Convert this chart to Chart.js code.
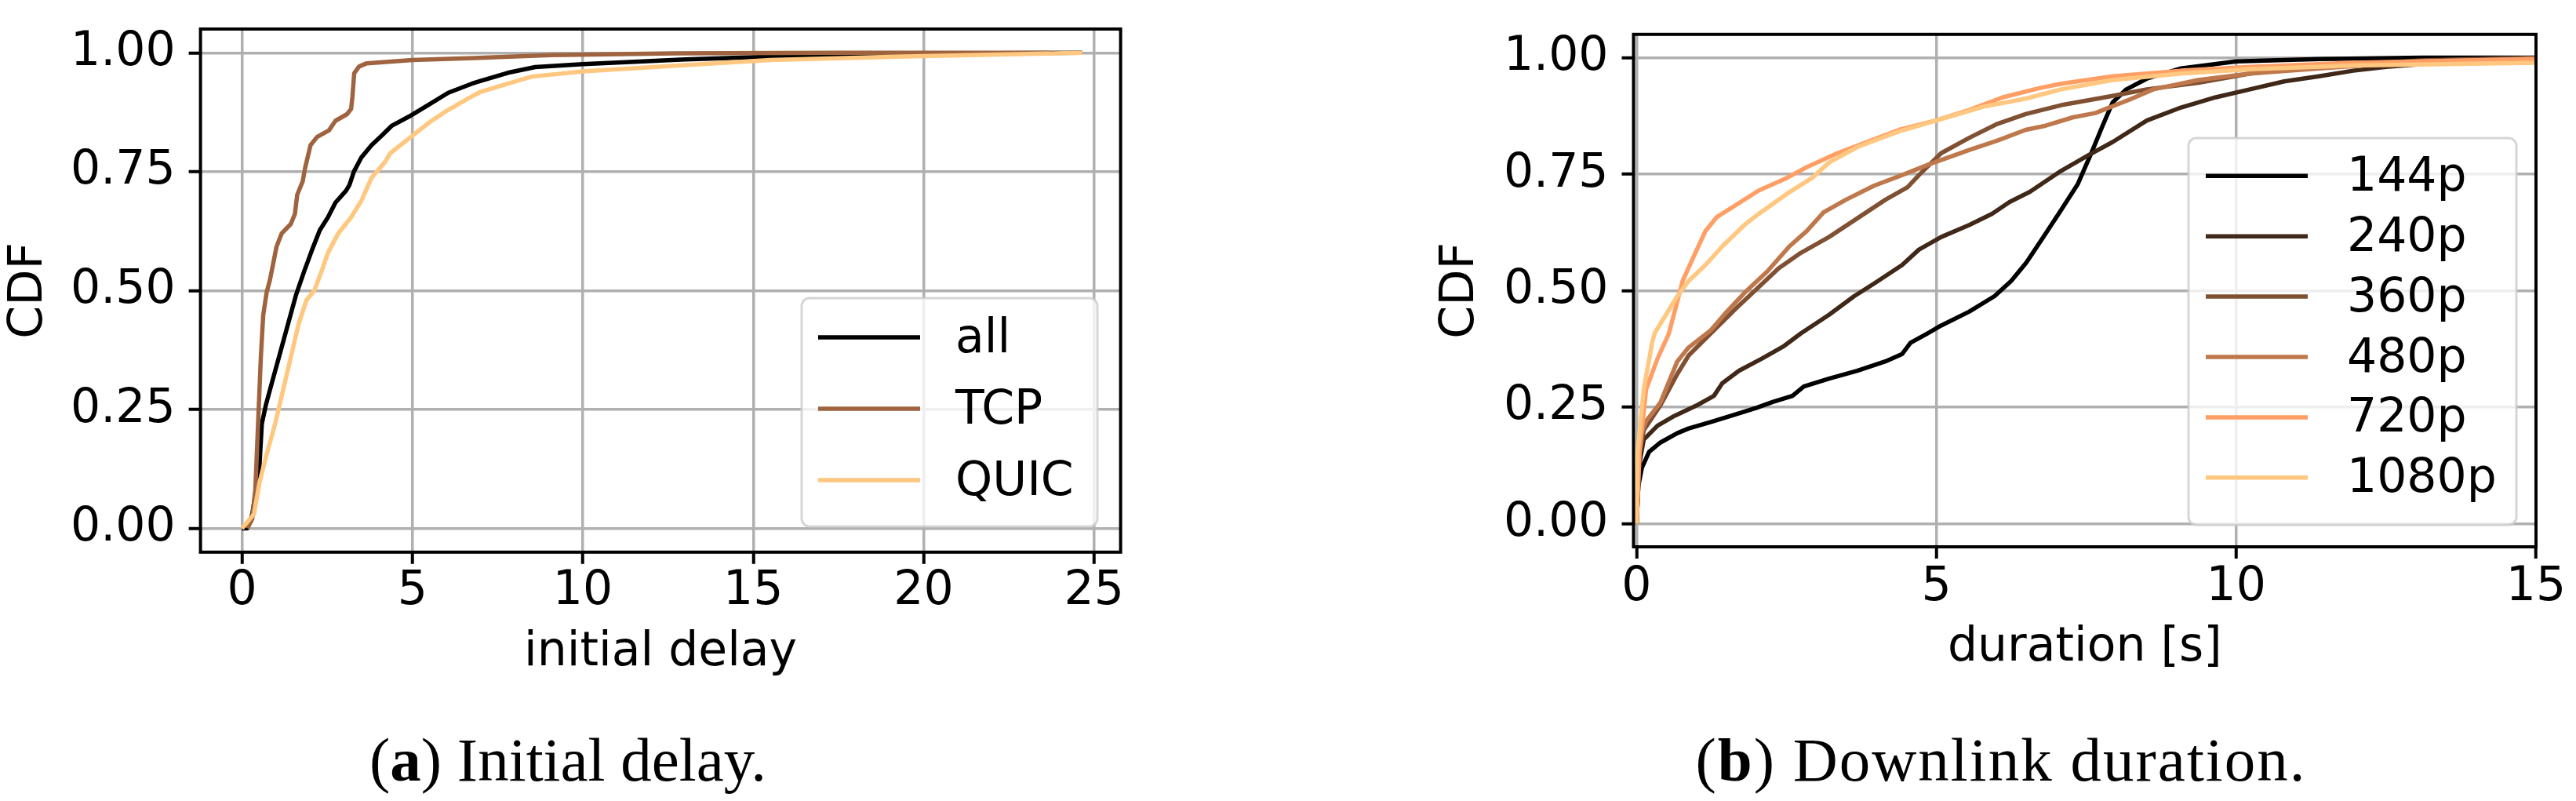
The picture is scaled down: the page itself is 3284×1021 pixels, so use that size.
<!DOCTYPE html>
<html>
<head>
<meta charset="utf-8">
<script src="https://cdn.jsdelivr.net/npm/chart.js"></script>
<style>
  body { margin: 0; background: #fff; width: 3284px; height: 1021px; position: relative; overflow: hidden; }
  canvas { position: absolute; top: 0; }
  .caption { position: absolute; top: 929px; font-family: "Liberation Serif", serif; font-size: 79px; line-height: 79px; text-align: center; white-space: nowrap; color: #000; }
</style>
</head>
<body>
<canvas id="delayChart" width="1450" height="900" style="left:0px"></canvas>
<canvas id="durationChart" width="1484" height="900" style="left:1800px"></canvas>
<div class="caption" style="left:324px;width:800px">(<b>a</b>) Initial delay.</div>
<div class="caption" style="left:2151px;width:800px;letter-spacing:2px">(<b>b</b>) Downlink duration.</div>
<script>
// оси
const yTicks = [0, 0.25, 0.5, 0.75, 1.0];
const yTickLabels = ['0.00', '0.25', '0.50', '0.75', '1.00'];
const delayTicks = [0, 5, 10, 15, 20, 25];
const durationTicks = [0, 5, 10, 15];

// (a) initial delay, точки [x, CDF]
const delayLabels = ['all', 'TCP', 'QUIC'];
const delayAll = [[0,0],[0.15,0],[0.3,0.03],[0.45,0.1],[0.51,0.13],[0.58,0.22],[0.7,0.26],[0.89,0.31],[1.12,0.37],[1.35,0.43],[1.58,0.49],[1.82,0.54],[2.05,0.585],[2.28,0.627],[2.52,0.654],[2.74,0.685],[3.05,0.71],[3.15,0.722],[3.28,0.75],[3.5,0.78],[3.8,0.806],[4.1,0.826],[4.4,0.847],[4.9,0.866],[5.5,0.892],[6.05,0.916],[6.74,0.935],[7.0,0.941],[7.8,0.958],[8.6,0.97],[10,0.976],[13,0.986],[15.5,0.992],[18,0.997],[21,0.999],[24.66,1.0]];
const delayTcp = [[0.16,0],[0.3,0.02],[0.39,0.083],[0.47,0.22],[0.55,0.358],[0.62,0.448],[0.72,0.496],[0.82,0.523],[1.01,0.592],[1.16,0.62],[1.43,0.64],[1.55,0.661],[1.62,0.702],[1.78,0.73],[1.85,0.758],[2.01,0.806],[2.2,0.823],[2.55,0.837],[2.74,0.857],[3.08,0.871],[3.2,0.882],[3.24,0.909],[3.29,0.957],[3.43,0.971],[3.66,0.978],[5.0,0.985],[6.8,0.989],[9.05,0.995],[12.7,0.999],[17.5,1.0],[23.7,1.0]];
const delayQuic = [[0,0],[0.35,0.03],[0.51,0.096],[0.7,0.15],[0.97,0.22],[1.2,0.29],[1.43,0.36],[1.66,0.43],[1.89,0.48],[2.12,0.5],[2.35,0.544],[2.51,0.578],[2.82,0.62],[3.2,0.654],[3.5,0.689],[3.8,0.737],[4.2,0.771],[4.35,0.789],[4.9,0.82],[5.5,0.854],[6.05,0.88],[6.66,0.905],[7.0,0.918],[7.8,0.935],[8.5,0.95],[10,0.961],[13,0.974],[15.5,0.985],[19.2,0.992],[24.66,1.0]];
const delayColors = ['#000000', '#9f643f', '#ffc77f'];

// (b) downlink duration, точки [s, CDF]
const durationLabels = ['144p', '240p', '360p', '480p', '720p', '1080p'];
const dur144 = [[0,0],[0.03,0.08],[0.09,0.12],[0.21,0.154],[0.4,0.174],[0.68,0.194],[0.87,0.204],[1.24,0.218],[1.57,0.231],[1.99,0.248],[2.27,0.261],[2.6,0.274],[2.79,0.294],[3.21,0.311],[3.68,0.328],[4.15,0.348],[4.43,0.364],[4.57,0.388],[4.85,0.408],[5.08,0.425],[5.55,0.455],[5.97,0.488],[6.25,0.521],[6.5,0.56],[6.79,0.616],[7.08,0.673],[7.36,0.729],[7.59,0.797],[7.77,0.853],[7.94,0.904],[8.17,0.932],[8.51,0.955],[9.08,0.977],[10,0.992],[11.4,0.997],[13.1,1.0],[15,1.0]];
const dur240 = [[0,0],[0.05,0.13],[0.12,0.18],[0.35,0.21],[0.63,0.231],[1.01,0.254],[1.29,0.274],[1.43,0.301],[1.71,0.328],[2.09,0.354],[2.46,0.381],[2.74,0.408],[3.21,0.448],[3.63,0.488],[3.96,0.515],[4.43,0.555],[4.71,0.588],[5.08,0.615],[5.55,0.641],[5.93,0.665],[6.22,0.69],[6.56,0.712],[7.08,0.757],[7.54,0.791],[7.94,0.819],[8.51,0.865],[9.08,0.893],[9.66,0.915],[10.23,0.932],[10.8,0.949],[11.38,0.96],[11.95,0.972],[12.5,0.98],[13.67,0.992],[15,0.997]];
const dur360 = [[0,0],[0.05,0.15],[0.12,0.2],[0.4,0.254],[0.68,0.321],[0.87,0.361],[1.34,0.421],[1.71,0.468],[2.04,0.508],[2.37,0.548],[2.74,0.581],[3.21,0.615],[3.68,0.655],[4.15,0.695],[4.52,0.722],[4.71,0.748],[5.08,0.795],[5.55,0.828],[6.02,0.858],[6.49,0.879],[7.08,0.898],[7.94,0.918],[8.51,0.932],[9.37,0.946],[10.23,0.966],[11.38,0.98],[13.1,0.994],[15,1.0]];
const dur480 = [[0,0],[0.04,0.15],[0.07,0.19],[0.16,0.22],[0.4,0.26],[0.68,0.348],[0.87,0.378],[1.24,0.415],[1.48,0.451],[1.8,0.495],[2.18,0.541],[2.55,0.595],[2.84,0.628],[3.12,0.668],[3.49,0.695],[3.96,0.725],[4.43,0.748],[4.9,0.772],[5.55,0.802],[6.02,0.822],[6.49,0.845],[6.79,0.853],[7.28,0.872],[7.65,0.881],[8.22,0.91],[8.62,0.932],[9.37,0.952],[10.23,0.966],[11.38,0.977],[13.1,0.992],[15,0.997]];
const dur720 = [[0,0],[0.05,0.154],[0.16,0.288],[0.35,0.354],[0.54,0.408],[0.77,0.521],[0.96,0.575],[1.15,0.628],[1.34,0.658],[1.71,0.688],[2.04,0.715],[2.51,0.742],[2.84,0.765],[3.35,0.795],[3.91,0.822],[4.38,0.845],[4.99,0.865],[5.55,0.888],[6.11,0.915],[6.73,0.935],[7.08,0.944],[7.94,0.96],[9.08,0.972],[10.23,0.98],[11.95,0.989],[15,0.997]];
const dur1080 = [[0,0],[0.02,0.154],[0.12,0.288],[0.26,0.388],[0.3,0.408],[0.49,0.448],[0.68,0.488],[0.87,0.521],[1.15,0.555],[1.43,0.595],[1.8,0.641],[2.04,0.665],[2.51,0.708],[2.93,0.742],[3.21,0.775],[3.68,0.808],[4.38,0.842],[5.08,0.868],[5.79,0.895],[6.49,0.912],[7.08,0.932],[7.94,0.952],[9.08,0.966],[10.23,0.975],[11.95,0.983],[15,0.989]];
const durationColors = ['#000000', '#402819', '#805033', '#bf784c', '#ff9f65', '#ffc77f'];

Chart.defaults.font.family = "'DejaVu Sans'";
Chart.defaults.font.size = 60;
Chart.defaults.color = '#000';

// рамка осей + легенда в стиле matplotlib
const frameAndLegend = {
    id: 'frameAndLegend',
    afterDatasetsDraw(chart, args, opts) {
        const { ctx, chartArea: a } = chart;
        ctx.save();
        ctx.strokeStyle = '#000';
        ctx.lineWidth = 4;
        ctx.strokeRect(a.left, a.top, a.right - a.left, a.bottom - a.top);

        const x = a.right - opts.gapRight - opts.width;
        const y = a.bottom - opts.gapBottom - opts.height;
        ctx.beginPath();
        ctx.roundRect(x, y, opts.width, opts.height, 10);
        ctx.fillStyle = 'rgba(255,255,255,0.8)';
        ctx.fill();
        ctx.strokeStyle = 'rgba(204,204,204,0.8)';
        ctx.lineWidth = 3;
        ctx.stroke();

        ctx.font = '60px "DejaVu Sans"';
        ctx.textBaseline = 'middle';
        ctx.fillStyle = '#000';
        chart.data.datasets.forEach((ds, i) => {
            const ry = y + opts.firstRow + i * opts.rowGap;
            ctx.strokeStyle = ds.borderColor;
            ctx.lineWidth = ds.borderWidth;
            ctx.beginPath();
            ctx.moveTo(x + opts.lineStart, ry);
            ctx.lineTo(x + opts.lineStart + 130, ry);
            ctx.stroke();
            ctx.fillText(ds.label, x + opts.textStart, ry + 3);
        });
        ctx.restore();
    }
};

function makeDatasets(labels, series, colors) {
    return labels.map((label, i) => ({
        label: label,
        data: series[i].map(p => ({ x: p[0], y: p[1] })),
        borderColor: colors[i],
        borderWidth: 5.5,
        borderJoinStyle: 'round',
        showLine: true,
        pointRadius: 0,
        tension: 0,
        order: labels.length - i
    }));
}

const gridStyle = { color: '#b0b0b0', lineWidth: 3.5, tickLength: 15, tickColor: '#000', tickWidth: 4, drawTicks: true };

function renderCdf(canvasId, datasets, cfg) {
    new Chart(document.getElementById(canvasId), {
        type: 'scatter',
        data: { datasets: datasets },
        options: {
            responsive: false,
            animation: false,
            devicePixelRatio: 1,
            layout: { padding: cfg.padding },
            plugins: { legend: { display: false }, tooltip: { enabled: false }, frameAndLegend: cfg.legend },
            scales: {
                x: {
                    type: 'linear',
                    min: cfg.xMin,
                    max: cfg.xMax,
                    afterBuildTicks: s => { s.ticks = cfg.xTicks.map(v => ({ value: v })); },
                    afterFit: s => { s.height = cfg.xAxisHeight; s.paddingLeft = 0; s.paddingRight = 0; },
                    grid: gridStyle,
                    border: { display: false },
                    ticks: { padding: cfg.xTickPad, maxRotation: 0, autoSkip: false, callback: v => String(v) },
                    title: { display: true, text: cfg.xTitle, padding: { top: 0, bottom: cfg.xTitlePad } }
                },
                y: {
                    type: 'linear',
                    min: -0.05,
                    max: 1.05,
                    afterBuildTicks: s => { s.ticks = yTicks.map(v => ({ value: v })); },
                    afterFit: s => { s.width = cfg.yAxisWidth; s.paddingTop = 0; s.paddingBottom = 0; },
                    grid: gridStyle,
                    border: { display: false },
                    ticks: { padding: 17, autoSkip: false, callback: (v, i) => yTickLabels[i] },
                    title: { display: true, text: 'CDF', padding: { top: cfg.yTitlePad, bottom: 0 } }
                }
            }
        },
        plugins: [frameAndLegend]
    });
}

renderCdf('delayChart', makeDatasets(delayLabels, [delayAll, delayTcp, delayQuic], delayColors), {
    padding: { top: 37, right: 21.4, bottom: 0, left: 0 },
    xMin: -1.22, xMax: 25.78, xTicks: delayTicks, xTitle: 'initial delay',
    xAxisHeight: 196.2, xTickPad: 0, xTitlePad: 31.5,
    yAxisWidth: 255.6, yTitlePad: 1,
    legend: { width: 377, height: 291, gapRight: 29.6, gapBottom: 32.8, firstRow: 50, rowGap: 91, lineStart: 21, textStart: 196 }
});

renderCdf('durationChart', makeDatasets(durationLabels, [dur144, dur240, dur360, dur480, dur720, dur1080], durationColors), {
    padding: { top: 43.8, right: 51, bottom: 0, left: 0 },
    xMin: -0.05, xMax: 15, xTicks: durationTicks, xTitle: 'duration [s]',
    xAxisHeight: 203, xTickPad: 1.5, xTitlePad: 38,
    yAxisWidth: 282.5, yTitlePad: 26,
    legend: { width: 418, height: 493, gapRight: 25, gapBottom: 28, firstRow: 48.3, rowGap: 76.9, lineStart: 22, textStart: 202 }
});
</script>
</body>
</html>
